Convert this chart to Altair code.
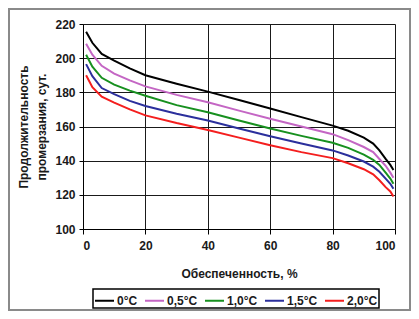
import altair as alt
import pandas as pd

# x: обеспеченность, %
x_pct = [1, 3, 6, 10, 15, 20, 30, 40, 50, 60, 70, 80, 85, 90, 93, 95, 97, 98.5, 99.5]

t_00 = [215.5, 209, 202.5, 198.5, 194, 190, 185, 180.4, 175.5, 170.5, 165.5, 160.5, 157.5, 153.5, 150, 146, 141, 137.5, 134.5]
t_05 = [208.5, 202, 195.5, 191, 187, 183.5, 178.5, 174.2, 169.3, 164.5, 160, 155.5, 152, 148, 145, 141, 137, 133, 130]
t_10 = [202, 195, 188.5, 184.5, 181, 178, 172.5, 168.3, 163.5, 158.8, 154.5, 150.5, 147.5, 143.5, 140.5, 137.5, 133, 129.5, 126.5]
t_15 = [196.5, 189.5, 182.5, 179, 175, 172, 167.5, 163.5, 158.8, 154.3, 150, 146, 143, 139.5, 136.5, 133.5, 129.5, 126.5, 123.5]
t_20 = [190, 183, 177.5, 174, 170, 166.5, 162, 158, 153.5, 149, 145, 141.5, 138.5, 135, 132, 128.5, 124.5, 122, 119]

series_names = ["0°C", "0,5°C", "1,0°C", "1,5°C", "2,0°C"]
series_colors = ["#000000", "#C466C4", "#17901F", "#2B2F9C", "#F41E1E"]

x_ticks = [0, 20, 40, 60, 80, 100]
y_ticks = [100, 120, 140, 160, 180, 200, 220]

rows = []
for name, vals in zip(series_names, [t_00, t_05, t_10, t_15, t_20]):
    for xv, yv in zip(x_pct, vals):
        rows.append({"x": xv, "y": yv, "series": name})
df = pd.DataFrame(rows)

FONT = "Liberation Sans"

lines = alt.Chart(df).mark_line(strokeWidth=2).encode(
    x=alt.X(
        "x:Q",
        scale=alt.Scale(domain=[0, 100], nice=False),
        axis=alt.Axis(
            values=x_ticks,
            title="Обеспеченность, %",
            tickSize=5,
            labelPadding=6,
            titleY=48,
            titleBaseline="alphabetic",
        ),
    ),
    y=alt.Y(
        "y:Q",
        scale=alt.Scale(domain=[100, 220], nice=False),
        axis=alt.Axis(
            values=y_ticks,
            title=["Продолжительность", "промерзания, сут."],
            tickSize=4,
            labelPadding=4,
            titleX=-53,
            titleY=102.5,
            titleLineHeight=18,
        ),
    ),
    color=alt.Color(
        "series:N",
        scale=alt.Scale(domain=series_names, range=series_colors),
        sort=series_names,
        legend=alt.Legend(
            title=None,
            orient="none",
            legendX=10,
            legendY=265,
            direction="horizontal",
            symbolType="stroke",
            symbolSize=361,
            symbolStrokeWidth=2,
            labelFont=FONT,
            labelFontSize=12,
            labelFontWeight="bold",
            labelColor="#1a1a1a",
            labelOffset=2,
            columnPadding=3,
            padding=1,
            strokeColor="#000000",
        ),
    ),
)

frame = alt.Chart(pd.DataFrame({"a": [0]})).mark_rect(
    fillOpacity=0, stroke="#8a8a8a", strokeWidth=2
).encode(
    x=alt.value(-74), x2=alt.value(327), y=alt.value(-15), y2=alt.value(286)
)

chart = (
    alt.layer(frame, lines)
    .properties(
        width=312,
        height=205,
        autosize=alt.AutoSizeParams(type="none"),
        padding={"left": 75, "top": 16, "right": 16, "bottom": 82},
        background="white",
    )
    .configure_view(stroke=None)
    .configure_axis(
        grid=True,
        gridColor="#1a1a1a",
        gridWidth=1,
        domainColor="#000000",
        domainWidth=1,
        tickColor="#000000",
        labelFont=FONT,
        labelFontSize=12,
        labelFontWeight="bold",
        labelColor="#1a1a1a",
        titleFont=FONT,
        titleFontSize=12,
        titleFontWeight="bold",
        titleColor="#1a1a1a",
    )
    .configure_legend(strokeWidth=1.5)
)

chart.save("out.html", embed_options={"renderer": "svg", "actions": False})
